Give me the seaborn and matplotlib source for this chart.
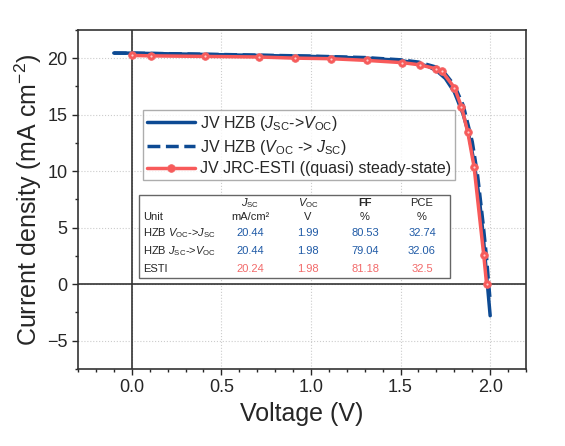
import numpy as np
import pandas as pd
import matplotlib.pyplot as plt
import seaborn as sns
from matplotlib.ticker import MultipleLocator

# JV data
v_fwd = [-0.1, 0.0, 0.5, 1.0, 1.3, 1.5, 1.6, 1.65, 1.7, 1.75, 1.8, 1.85, 1.88, 1.91, 1.94, 1.96, 1.98, 1.99, 2.0]
j_fwd = [20.45, 20.44, 20.3, 20.15, 20.0, 19.8, 19.5, 19.3, 18.9, 18.2, 17.0, 15.0, 13.3, 10.8, 7.5, 4.5, 0.8, -1.0, -2.8]

v_rev = [-0.1, 0.0, 0.5, 1.0, 1.3, 1.5, 1.6, 1.7, 1.75, 1.8, 1.85, 1.9, 1.93, 1.96, 1.98, 1.99, 2.0]
j_rev = [20.45, 20.44, 20.32, 20.18, 20.05, 19.85, 19.65, 19.2, 18.6, 17.6, 15.8, 12.6, 9.6, 5.4, 2.3, 0.3, -1.5]

v_esti = [0.0, 0.11, 0.41, 0.71, 0.91, 1.11, 1.31, 1.51, 1.61, 1.70, 1.73, 1.80, 1.84, 1.875, 1.91, 1.964, 1.98]
j_esti = [20.24, 20.2, 20.15, 20.1, 20.0, 19.95, 19.8, 19.6, 19.4, 19.05, 18.85, 17.4, 15.7, 13.45, 10.4, 2.6, 0.0]

# summary table
row_labels = ["HZB $V_{\\mathrm{OC}}$->$J_{\\mathrm{SC}}$", "HZB $J_{\\mathrm{SC}}$->$V_{\\mathrm{OC}}$", "ESTI"]
jsc_vals = ["20.44", "20.44", "20.24"]
voc_vals = ["1.99", "1.98", "1.98"]
ff_vals = ["80.53", "79.04", "81.18"]
pce_vals = ["32.74", "32.06", "32.5"]

blue = "#0d4a93"
red = "#f85a5a"
row_colors = ["#1f5aa6", "#1f5aa6", "#f26a6a"]

sns.set_style("ticks")
plt.rcParams["font.family"] = ["Liberation Sans", "DejaVu Sans"]
plt.rcParams["mathtext.fontset"] = "custom"
plt.rcParams["mathtext.rm"] = "Liberation Sans"
plt.rcParams["mathtext.it"] = "Liberation Sans:italic"

fig = plt.figure(figsize=(5.65, 4.46), dpi=100)
ax = fig.add_axes([0.138, 0.173, 0.793, 0.760])

ax.axhline(0, color="#333333", lw=1.2, zorder=1)
ax.axvline(0, color="#333333", lw=1.2, zorder=1)

sns.lineplot(x=v_fwd, y=j_fwd, ax=ax, color=blue, lw=2.5, sort=False,
             label="JV HZB ($J_{\\mathrm{SC}}$->$V_{\\mathrm{OC}}$)", zorder=3)
sns.lineplot(x=v_rev, y=j_rev, ax=ax, color=blue, lw=2.5, sort=False, linestyle="--",
             label="JV HZB ($V_{\\mathrm{OC}}$ -> $J_{\\mathrm{SC}}$)", zorder=3)
sns.lineplot(x=v_esti, y=j_esti, ax=ax, color=red, lw=2.5, sort=False, marker="o",
             markersize=5.5, markeredgecolor="#f26666", markeredgewidth=0.6,
             label="JV JRC-ESTI ((quasi) steady-state)", zorder=4)
ax.scatter(v_esti, j_esti, s=2.5, color="white", alpha=0.7, zorder=5, linewidths=0)

ax.set_xlim(-0.3, 2.2)
ax.set_ylim(-7.5, 22.5)
ax.xaxis.set_major_locator(MultipleLocator(0.5))
ax.xaxis.set_minor_locator(MultipleLocator(0.1))
ax.yaxis.set_major_locator(MultipleLocator(5))
ax.yaxis.set_minor_locator(MultipleLocator(2.5))
ax.tick_params(axis="both", which="major", labelsize=13, length=4, width=1, direction="out")
ax.tick_params(axis="both", which="minor", length=2.5, width=1, direction="out")
ax.grid(True, which="major", color="#cccccc", ls=":", lw=0.8)
for s in ax.spines.values():
    s.set_linewidth(1.2)
    s.set_color("#333333")

ax.set_xlabel("Voltage (V)", fontsize=18)
ax.set_ylabel("Current density (mA cm$^{\\mathrm{-2}}$)", fontsize=18, labelpad=2)

leg = ax.legend(loc="upper left", bbox_to_anchor=(0.145, 0.764), fontsize=11.5, frameon=True,
                fancybox=False, edgecolor="#999999", handlelength=3.0, borderpad=0.25,
                labelspacing=0.3, handletextpad=0.3, borderaxespad=0)
leg.get_frame().set_linewidth(1.0)

# table drawn as text in figure pixel coordinates
W, H = 565, 446
def px(x, y):
    return x / W, 1 - y / H

box = plt.Rectangle(px(139, 278), (450 - 139) / W, (278 - 195) / H, transform=fig.transFigure,
                    fill=True, facecolor="white", edgecolor="#666666", lw=1.0, zorder=6)
fig.patches.append(box)

fs = 8
col_x = [250, 308, 365, 422]
head1 = ["$J_{\\mathrm{SC}}$", "$V_{\\mathrm{OC}}$", "FF", "PCE"]
head2 = ["mA/cm²", "V", "%", "%"]
for cx, h1, h2 in zip(col_x, head1, head2):
    fig.text(*px(cx, 203), h1, fontsize=fs, ha="center", va="center", zorder=7,
             fontweight="bold" if h1 == "FF" else "normal")
    fig.text(*px(cx, 217), h2, fontsize=fs, ha="center", va="center", zorder=7)
fig.text(*px(143, 217), "Unit", fontsize=fs, ha="left", va="center", zorder=7)

row_y = [233, 251, 269]
for ry, lab, rc, a, b, c, d in zip(row_y, row_labels, row_colors, jsc_vals, voc_vals, ff_vals, pce_vals):
    fig.text(*px(143, ry), lab, fontsize=fs, ha="left", va="center", zorder=7)
    for cx, val in zip(col_x, [a, b, c, d]):
        fig.text(*px(cx, ry), val, fontsize=fs, ha="center", va="center", color=rc, zorder=7)

fig.savefig("out.png", dpi=100)
